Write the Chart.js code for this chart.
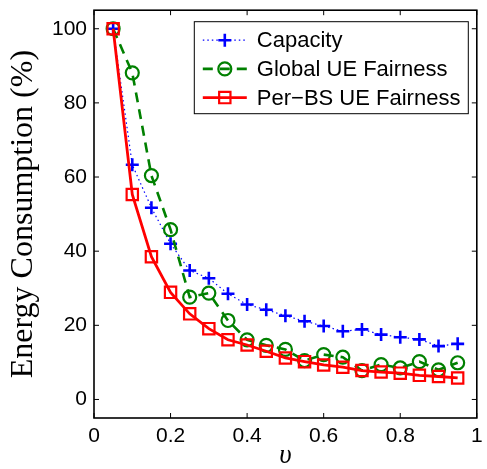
<!DOCTYPE html>
<html>
<head>
<meta charset="utf-8">
<script src="https://cdn.jsdelivr.net/npm/chart.js@4.4.1/dist/chart.umd.min.js"></script>
<style>
  html, body { margin: 0; background: #fff; }
  #chart { display: block; }
</style>
</head>
<body>
<canvas id="chart" width="487" height="469"></canvas>
<script>
const upsilon = [0.05, 0.1, 0.15, 0.2, 0.25, 0.3, 0.35, 0.4, 0.45, 0.5, 0.55, 0.6, 0.65, 0.7, 0.75, 0.8, 0.85, 0.9, 0.95];
const capacity = [100, 63.3, 51.7, 42, 34.8, 32.7, 28.5, 25.6, 24.2, 22.6, 21.1, 19.8, 18.4, 18.9, 17.5, 16.8, 16.2, 14.4, 15];
const globalFair = [100, 88.1, 60.4, 45.8, 27.6, 28.7, 21.3, 16.1, 14.6, 13.5, 10.5, 12.1, 11.4, 7.8, 9.4, 8.5, 10.2, 8, 9.9];
const perBsFair = [100, 55.3, 38.5, 28.9, 23.1, 19.1, 16.1, 14.7, 13, 11.2, 10.2, 9.3, 8.7, 7.8, 7.4, 7.1, 6.5, 6.2, 5.8];
const seriesNames = ["Capacity", "Global UE Fairness", "Per\u2212BS UE Fairness"];
const xTicks = [0, 0.2, 0.4, 0.6, 0.8, 1];
const yTicks = [0, 20, 40, 60, 80, 100];

const tickFont = { family: "'Liberation Sans', Arial, sans-serif", size: 21 };
const pts = ys => ys.map((y, i) => ({ x: upsilon[i], y }));

const series = [
  { label: seriesNames[0], data: pts(capacity), borderColor: "#0000ff", borderWidth: 1.2, borderDash: [1.5, 3],
    pointStyle: "cross", pointRadius: 6.5, pointBorderWidth: 2.6, order: 3 },
  { label: seriesNames[1], data: pts(globalFair), borderColor: "#008000", borderWidth: 2.6, borderDash: [10, 7],
    pointStyle: "circle", pointRadius: 6.5, pointBorderWidth: 2.2, order: 2 },
  { label: seriesNames[2], data: pts(perBsFair), borderColor: "#ff0000", borderWidth: 2.8, borderDash: [],
    pointStyle: "rect", pointRadius: 8, pointBorderWidth: 2.2, order: 1 },
];
series.forEach(s => { s.pointBackgroundColor = "rgba(0,0,0,0)"; s.pointBorderColor = s.borderColor; s.tension = 0; });

// box, inward ticks (matlab style) and the legend inside the axes
const boxPlugin = {
  id: "box",
  afterDraw(chart) {
    const ctx = chart.ctx, { left, right, top, bottom } = chart.chartArea;
    const sx = chart.scales.x, sy = chart.scales.y;
    const seg = (a, b, c, d) => { ctx.beginPath(); ctx.moveTo(a, b); ctx.lineTo(c, d); ctx.stroke(); };
    ctx.save();
    ctx.strokeStyle = "#000";
    ctx.lineWidth = 1;
    xTicks.forEach(v => { const p = sx.getPixelForValue(v); seg(p, bottom, p, bottom - 5); seg(p, top, p, top + 5); });
    yTicks.forEach(v => { const p = sy.getPixelForValue(v); seg(left, p, left + 5, p); seg(right, p, right - 5, p); });
    ctx.lineWidth = 1.6;
    ctx.strokeRect(left, top, right - left, bottom - top);

    // legend
    const bx = right - 283, by = top + 11, bw = 274, bh = 92;
    ctx.fillStyle = "#fff";
    ctx.fillRect(bx, by, bw, bh);
    ctx.lineWidth = 1;
    ctx.strokeRect(bx + 0.5, by + 0.5, bw, bh);
    const rows = [19, 47.7, 76.4];
    chart.data.datasets.forEach((ds, i) => {
      const y = by + rows[i];
      ctx.strokeStyle = ds.borderColor;
      ctx.lineWidth = ds.borderWidth;
      ctx.setLineDash(ds.borderDash);
      seg(bx + 9, y, bx + 53, y);
      ctx.setLineDash([]);
      ctx.fillStyle = "rgba(0,0,0,0)";
      ctx.lineWidth = ds.pointBorderWidth;
      Chart.helpers.drawPoint(ctx, { pointStyle: ds.pointStyle, radius: ds.pointRadius, borderWidth: ds.pointBorderWidth, rotation: 0 }, bx + 31, y);
      ctx.fillStyle = "#000";
      ctx.font = "22px 'Liberation Sans', Arial, sans-serif";
      ctx.textBaseline = "middle";
      ctx.textAlign = "left";
      ctx.fillText(ds.label, bx + 63, y + 1);
    });
    ctx.restore();
  }
};

new Chart(document.getElementById("chart"), {
  type: "line",
  data: { datasets: series },
  options: {
    responsive: false,
    animation: false,
    events: [],
    layout: { padding: { left: 0, right: 5, top: 10, bottom: 0 } },
    plugins: { legend: { display: false }, tooltip: { enabled: false } },
    scales: {
      x: {
        type: "linear", min: 0, max: 1,
        afterBuildTicks: s => { s.ticks = xTicks.map(v => ({ value: v })); },
        afterFit: s => { s.height = 51; s.paddingLeft = 0; s.paddingRight = 0; },
        grid: { display: false, drawTicks: false },
        border: { display: false },
        ticks: { color: "#000", font: tickFont, padding: 6, maxRotation: 0, callback: v => String(v) },
        title: { display: true, text: "\u03c5", color: "#000", padding: 0,
                 font: { family: "'Liberation Serif', 'Times New Roman', serif", size: 27, style: "italic", lineHeight: 1.0 } },
      },
      y: {
        type: "linear", min: -5, max: 105,
        afterBuildTicks: s => { s.ticks = yTicks.map(v => ({ value: v })); },
        afterFit: s => { s.width = 94; s.paddingTop = 0; s.paddingBottom = 0; },
        grid: { display: false, drawTicks: false },
        border: { display: false },
        ticks: { color: "#000", font: tickFont, padding: 7, callback: v => String(v) },
        title: { display: true, text: "Energy Consumption (%)", color: "#000", padding: { top: 4, bottom: 0 },
                 font: { family: "'Liberation Serif', 'Times New Roman', serif", size: 32, lineHeight: 1.2 } },
      },
    },
  },
  plugins: [boxPlugin],
});
</script>
</body>
</html>
